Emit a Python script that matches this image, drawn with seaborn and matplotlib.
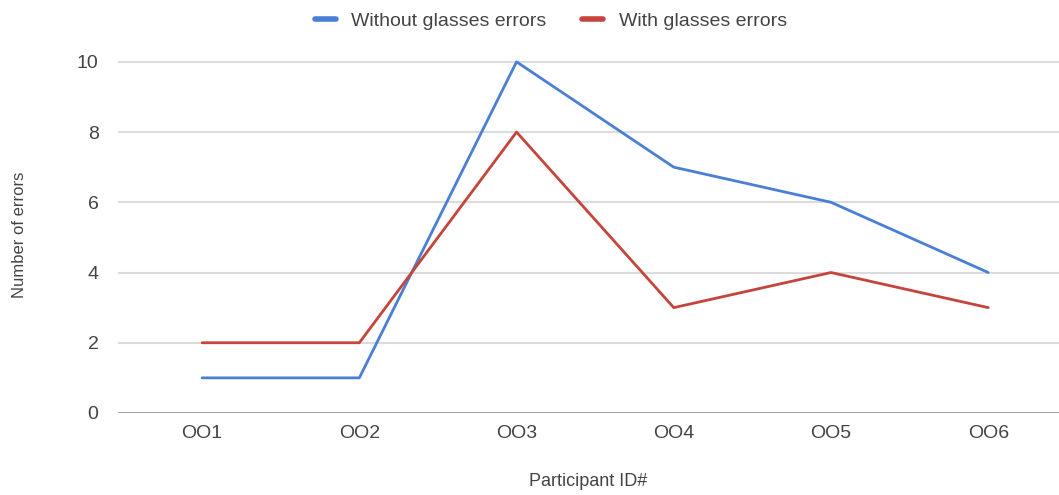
import matplotlib
matplotlib.use("Agg")
import matplotlib.pyplot as plt
import seaborn as sns
import pandas as pd

participants = ["OO1", "OO2", "OO3", "OO4", "OO5", "OO6"]
without_glasses = [1, 1, 10, 7, 6, 4]
with_glasses = [2, 2, 8, 3, 4, 3]
series_names = ["Without glasses errors", "With glasses errors"]
yticks = [0, 2, 4, 6, 8, 10]

df = pd.DataFrame({
    "Participant": participants * 2,
    "Errors": without_glasses + with_glasses,
    "Series": [series_names[0]] * len(participants) + [series_names[1]] * len(participants),
})
df["pos"] = list(range(len(participants))) * 2

sns.set_style("white")
plt.rcParams["font.family"] = ["Liberation Sans", "DejaVu Sans"]

fig = plt.figure(figsize=(10.59, 4.95), dpi=100)
ax = fig.add_axes([0.1114, 0.1657, 0.8886, 0.72])

palette = {series_names[0]: "#4a7fd6", series_names[1]: "#c5443b"}
sns.lineplot(data=df, x="pos", y="Errors", hue="Series", palette=palette,
             linewidth=2, ax=ax, legend=False, sort=False)
for l in ax.lines:
    l.set_clip_on(False)

ax.set_xlim(-0.535, 5.45)
ax.set_ylim(0, 10.15)
ax.set_yticks(yticks)
ax.set_xticks(range(len(participants)))
ax.set_xticklabels(participants)
for y in yticks[1:]:
    ax.axhline(y, color="#dcdcdc", linewidth=1.5, zorder=0)
ax.axhline(0, color="#9a9a9a", linewidth=2, zorder=1)
for s in ax.spines.values():
    s.set_visible(False)
ax.tick_params(axis="both", length=0, labelsize=14, colors="#444444")
ax.tick_params(axis="x", pad=9)
ax.tick_params(axis="y", pad=14)
ax.set_xlabel("Participant ID#", fontsize=13, color="#444444", labelpad=22)
ax.set_ylabel("Number of errors", fontsize=12, color="#444444", labelpad=36)

from matplotlib.lines import Line2D
handles = [Line2D([], [], color=palette[n], linewidth=4) for n in series_names]
fig.legend(handles, series_names, loc="center", bbox_to_anchor=(0.52, 0.958),
           ncol=2, frameon=False, fontsize=14, handlelength=1.1,
           columnspacing=1.8, labelcolor="#444444")

fig.savefig("out.png", dpi=100, facecolor="white")
